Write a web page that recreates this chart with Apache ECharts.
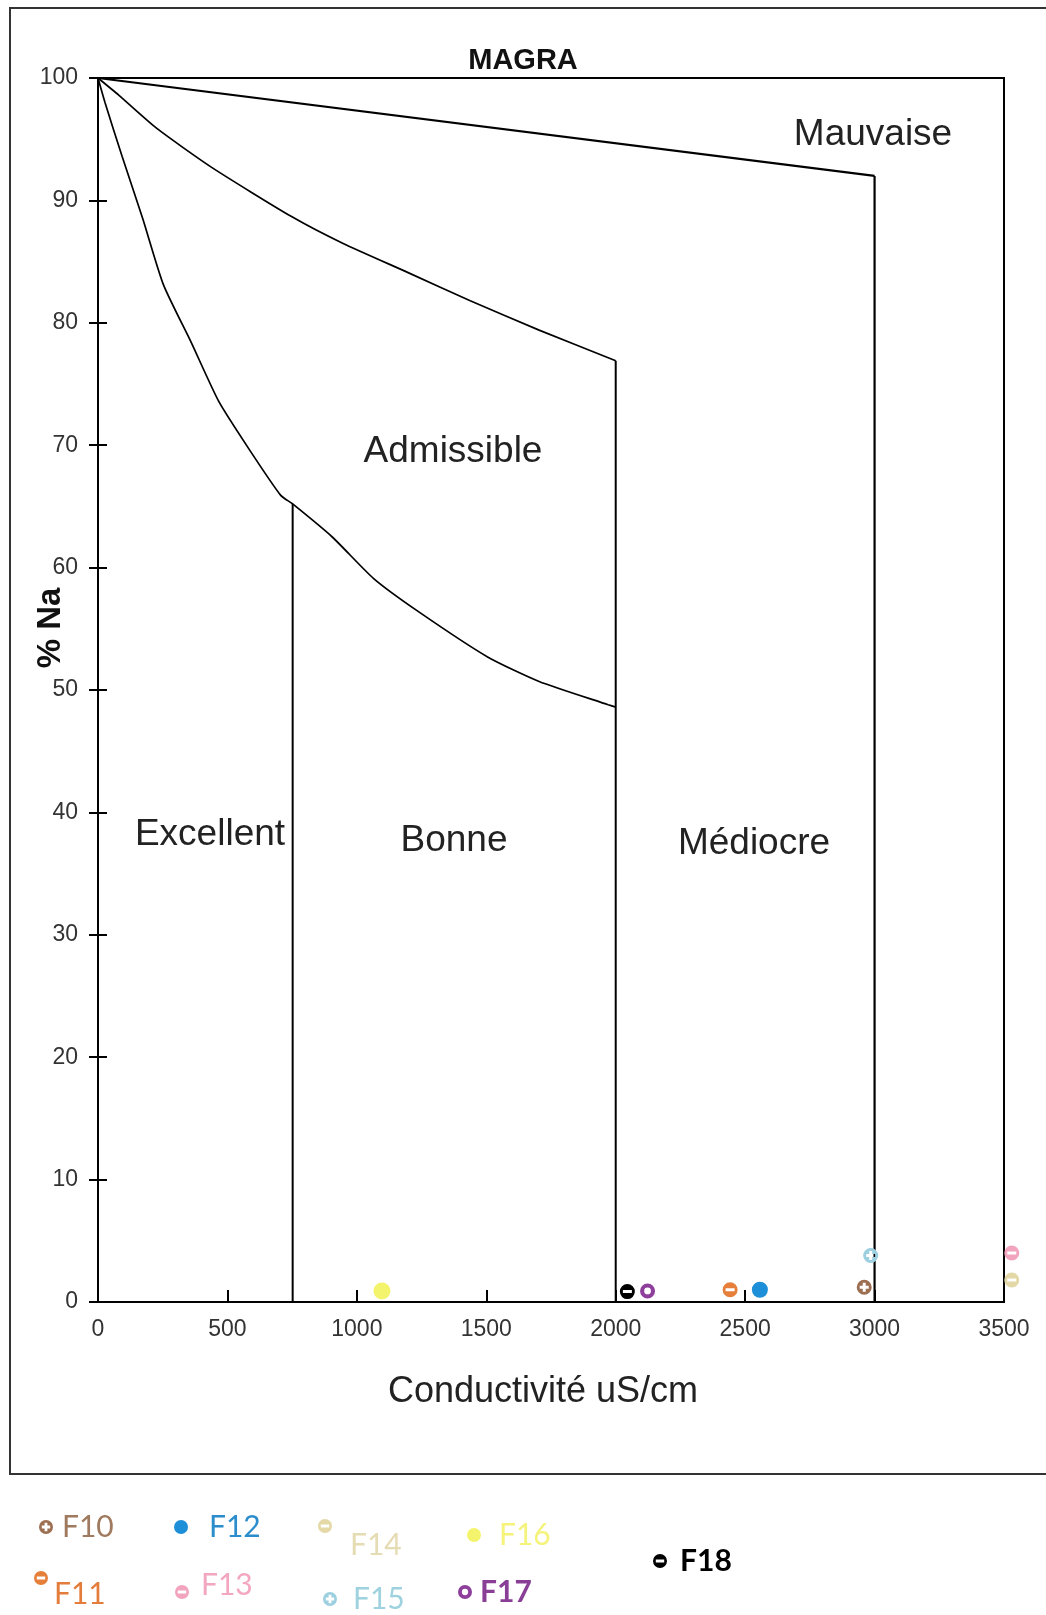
<!DOCTYPE html>
<html>
<head>
<meta charset="utf-8">
<script src="https://cdn.jsdelivr.net/npm/echarts@6/dist/echarts.min.js"></script>
<style>
html,body{margin:0;padding:0;background:#fff;}
#chart{width:1046px;height:1615px;}
</style>
</head>
<body>
<div id="chart"></div>
<script>
// ---------- data ----------
const xTicks = [0, 500, 1000, 1500, 2000, 2500, 3000, 3500];
const yTicks = [0, 10, 20, 30, 40, 50, 60, 70, 80, 90, 100];

// class boundary curves [conductivity, %Na]
const lineMauvaise = [[0, 100], [3000, 92]];
const lineAdmissible = [[0, 100], [80, 98.6], [226, 95.9], [439, 92.7], [746, 88.7], [945, 86.5], [1198, 84.1], [1438, 81.8], [1704, 79.4], [2000, 76.9]];
const lineBonne = [[0, 100], [27, 98], [93, 93.6], [173, 88.5], [253, 83.1], [360, 78.4], [466, 73.6], [586, 69.6], [706, 65.9], [752, 65.2], [905, 62.5], [1065, 59.1], [1238, 56.4], [1505, 52.7], [1704, 50.7], [1971, 48.8], [2000, 48.6]];
// vertical class limits
const vert3000 = [[3000, 92], [3000, 0]];
const vert2000 = [[2000, 76.9], [2000, 0]];
const vert750 = [[752, 65.2], [752, 0]];

// wells
const stations = ['F10', 'F11', 'F12', 'F13', 'F14', 'F15', 'F16', 'F17', 'F18'];
const conductivity = [2960, 2442, 2557, 3530, 3530, 2985, 1097, 2123, 2045];
const sodiumPct = [1.2, 1.0, 1.0, 4.0, 1.8, 3.8, 0.9, 0.9, 0.85];

const regionLabels = ['Mauvaise', 'Admissible', 'Excellent', 'Bonne', 'Médiocre'];

// ---------- styles ----------
const colors = {F10:'#9c6e52', F11:'#e57f3a', F12:'#1c8fd8', F13:'#f2a3bd', F14:'#e3d8a6', F15:'#9ccfe0', F16:'#f4f46c', F17:'#8e3f9c', F18:'#000000'};
const textColors = {F10:'#a07a5e', F11:'#e47d3c', F12:'#2b8dcb', F13:'#f3a6bf', F14:'#e6dcb3', F15:'#9fd2df', F16:'#f5f37a', F17:'#8a3f96', F18:'#000000'};
const C = 'M0,-10A10,10 0 1,1 0,10A10,10 0 1,1 0,-10Z';
const symMinus = 'path://' + C + ' M-6,-2L-6,2L6,2L6,-2Z';
const symPlus = 'path://' + C + ' M-2,-6L-2,-2L-6,-2L-6,2L-2,2L-2,6L2,6L2,2L6,2L6,-2L2,-2L2,-6Z';
const symRing = 'path://' + C + ' M0,-4.5A4.5,4.5 0 1,0 0,4.5A4.5,4.5 0 1,0 0,-4.5Z';
const symbols = {F10:symPlus, F11:symMinus, F12:'circle', F13:symMinus, F14:symMinus, F15:symPlus, F16:'circle', F17:symRing, F18:symMinus};
const symbolSizes = {F12:16, F16:17};

// legend placement: [left, top, textPadLeft, formatter, lineHeight]
const legendPos = {
  F10: [39, 1512, 4, '{name}', 30],
  F12: [174, 1512, 16, '{name}', 30],
  F14: [318, 1488, 13, '\n{name}', 38],
  F16: [467, 1520, 13, '{name}', 30],
  F11: [34, 1546, 1, '\n{name}', 32],
  F13: [175, 1570, 7, '{name}\n', 14],
  F15: [323, 1584, 11, '{name}', 30],
  F17: [458, 1577, 3, '{name}', 30],
  F18: [653, 1546, 8, '{name}', 30]
};
const legendWeight = {F17:'bold', F18:'bold'};

const chart = echarts.init(document.getElementById('chart'), null, {renderer: 'canvas'});

const boundary = (name, data, w, smooth) => ({type: 'line', name: name, data: data, symbol: 'none', silent: true, clip: false,
  smooth: smooth ? 0.2 : false, lineStyle: {color: '#000', width: w}, z: 3});

const series = [
  boundary('lim1', lineMauvaise, 2.2, false),
  boundary('lim2', lineAdmissible, 1.7, true),
  boundary('lim3', lineBonne, 1.7, true),
  boundary('v3000', vert3000, 2.2, false),
  boundary('v2000', vert2000, 2, false),
  boundary('v750', vert750, 2, false)
];
stations.forEach((s, i) => {
  series.push({
    type: 'scatter', name: s, clip: false, z: 5,
    data: [[conductivity[i], sodiumPct[i]]],
    symbol: symbols[s], symbolSize: symbolSizes[s] || 15,
    itemStyle: {color: colors[s], opacity: 1}
  });
});

const legends = stations.map(s => ({
  data: [s], left: legendPos[s][0], top: legendPos[s][1], padding: 0,
  orient: 'horizontal', itemWidth: 14, itemHeight: 14, selectedMode: false,
  formatter: legendPos[s][3],
  textStyle: {color: textColors[s], fontSize: 30, lineHeight: legendPos[s][4], fontFamily: 'Lato',
    fontWeight: legendWeight[s] || 'normal', padding: [0, 0, 0, legendPos[s][2]]}
}));

const labelFont = {fontFamily: 'Liberation Sans', fontSize: 37, fill: '#222'};
const regionPos = [[873, 135], [453, 452], [210, 835], [454, 841], [754, 844]];

const option = {
  backgroundColor: '#fff',
  animation: false,
  title: {text: 'MAGRA', left: 'center', top: 41,
    textStyle: {fontFamily: 'Liberation Sans', fontWeight: 'bold', fontSize: 29, color: '#111'}},
  grid: {left: 98, top: 78, right: 42, bottom: 313, show: true, borderColor: '#000', borderWidth: 2, backgroundColor: 'transparent'},
  legend: legends,
  xAxis: {
    type: 'value', min: xTicks[0], max: xTicks[xTicks.length - 1], interval: xTicks[1] - xTicks[0],
    axisLine: {show: true, onZero: false, lineStyle: {color: '#000', width: 2}},
    axisTick: {show: true, inside: true, length: 12, lineStyle: {color: '#000', width: 2}},
    axisLabel: {fontFamily: 'Liberation Sans', fontSize: 23, color: '#333', margin: 16, formatter: (v) => String(v)},
    splitLine: {show: false},
    name: 'Conductivité uS/cm', nameLocation: 'middle', nameGap: 72,
    nameTextStyle: {fontFamily: 'Liberation Sans', fontSize: 36, color: '#222', padding: [0, 16, 0, 0]}
  },
  yAxis: [{
    type: 'value', min: yTicks[0], max: yTicks[yTicks.length - 1], interval: yTicks[1] - yTicks[0],
    axisLine: {show: true, onZero: false, lineStyle: {color: '#000', width: 2}},
    axisTick: {show: true, length: 9, lineStyle: {color: '#000', width: 2}},
    axisLabel: {fontFamily: 'Liberation Sans', fontSize: 23, color: '#333', margin: 20},
    splitLine: {show: false}
  }, {
    type: 'value', min: yTicks[0], max: yTicks[yTicks.length - 1], interval: yTicks[1] - yTicks[0], position: 'left',
    axisLine: {show: false},
    axisTick: {show: true, inside: true, length: 9, lineStyle: {color: '#000', width: 2}},
    axisLabel: {show: false}, splitLine: {show: false}
  }],
  graphic: [
    {type: 'rect', shape: {x: 10, y: 8, width: 1060, height: 1466}, style: {fill: 'none', stroke: '#333', lineWidth: 2}, silent: true, z: 0},
    {type: 'text', x: 51, y: 628, rotation: Math.PI / 2, silent: true,
      style: {text: '% Na', fontFamily: 'Liberation Sans', fontWeight: 'bold', fontSize: 33, fill: '#111', align: 'center', verticalAlign: 'middle'}}
  ].concat(regionLabels.map((t, i) => ({
    type: 'text', x: regionPos[i][0], y: regionPos[i][1], silent: true,
    style: Object.assign({text: t, align: 'center', verticalAlign: 'middle'}, labelFont)
  }))),
  series: series
};
chart.setOption(option);
</script>
</body>
</html>
